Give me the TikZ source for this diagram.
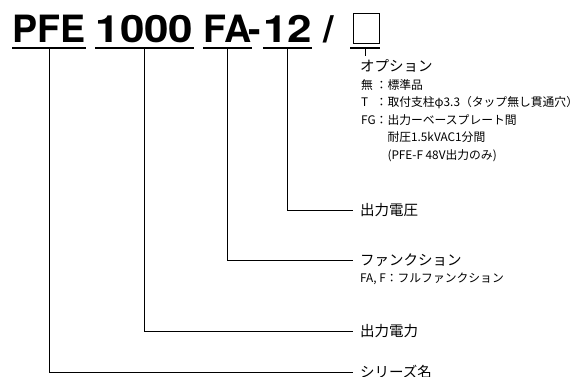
\documentclass[tikz,border=0pt]{standalone}
\usepackage{fontspec}
\setmainfont{TeX Gyre Heros}
\newfontfamily\jafont{Noto Sans CJK JP}
\newfontfamily\titlefont{TeX Gyre Heros}
\newfontfamily\titledigits{TeX Gyre Heros}[FakeStretch=1.17]

\begin{document}
\begin{tikzpicture}[x=1pt, y=-1pt,
    part/.style={anchor=base, inner sep=0pt, text depth=6pt,
        font=\fontsize{37.6}{40}\selectfont\titlefont\bfseries},
    digits/.style={font=\fontsize{37.6}{40}\selectfont\titledigits\bfseries},
    uline/.style={line width=1.6pt},
    conn/.style={line width=0.9pt},
    bigtext/.style={anchor=west, inner xsep=7pt, inner ysep=0pt,
        font=\fontsize{14.5}{17}\selectfont\jafont},
    smalltext/.style={inner sep=0pt, align=left,
        font=\fontsize{11.8}{17.6}\selectfont\jafont}]
    \useasboundingbox (0,0) rectangle (578,376);

    % model number
    \node[part]         (pfe)   at (49,42)    {PFE};
    \node[part, digits] (watt)  at (144.5,42) {1000};
    \node[part]         (func)  at (227.5,42) {FA};
    \node[part]         (dash)  at (255,42)   {-};
    \node[part, digits] (volt)  at (287.5,42) {12};
    \node[part]         (slash) at (329,42)   {/};
    \node[draw, line width=0.8pt, inner sep=0pt,
          minimum width=26pt, minimum height=30pt] (optbox) at (366,28) {};

    \foreach \n in {pfe, watt, func, volt}
        \draw[uline] (\n.south west) -- (\n.south east);
    \coordinate (optl)    at (350,48);
    \coordinate (optr)    at (380,48);
    \coordinate (optstem) at (365,48);
    \coordinate (optend)  at (365,56);
    \draw[uline] (optl) -- (optr);

    % labels
    \node[bigtext] (optlabel)   at (353,66) {オプション};
    \node[smalltext, anchor=north west] (optnote) at (361,76.5) {%
        \begin{tabular}{@{}l@{：}l@{}}
        無 & 標準品\\
        T  & 取付支柱φ3.3（タップ無し貫通穴）\\
        FG & 出力ーベースプレート間\\
        \multicolumn{1}{@{}l@{\hspace{1em}}}{} & 耐圧1.5kVAC1分間\\
        \multicolumn{1}{@{}l@{\hspace{1em}}}{} & (PFE-F 48V出力のみ)
        \end{tabular}};
    \node[bigtext] (volttext)   at (353,210) {出力電圧};
    \node[bigtext] (functext)   at (353,260) {ファンクション};
    \node[smalltext, anchor=west] (funcnote) at (360,279) {FA, F：フルファンクション};
    \node[bigtext] (powertext)  at (353,331) {出力電力};
    \node[bigtext] (seriestext) at (353,372) {シリーズ名};

    % connectors
    \draw[conn] (optstem) -- (optend);
    \draw[conn] (volt.south) |- (volttext.west);
    \draw[conn] (func.south) |- (functext.west);
    \draw[conn] (watt.south) |- (powertext.west);
    \draw[conn] (pfe.south)  |- (seriestext.west);
\end{tikzpicture}
\end{document}
